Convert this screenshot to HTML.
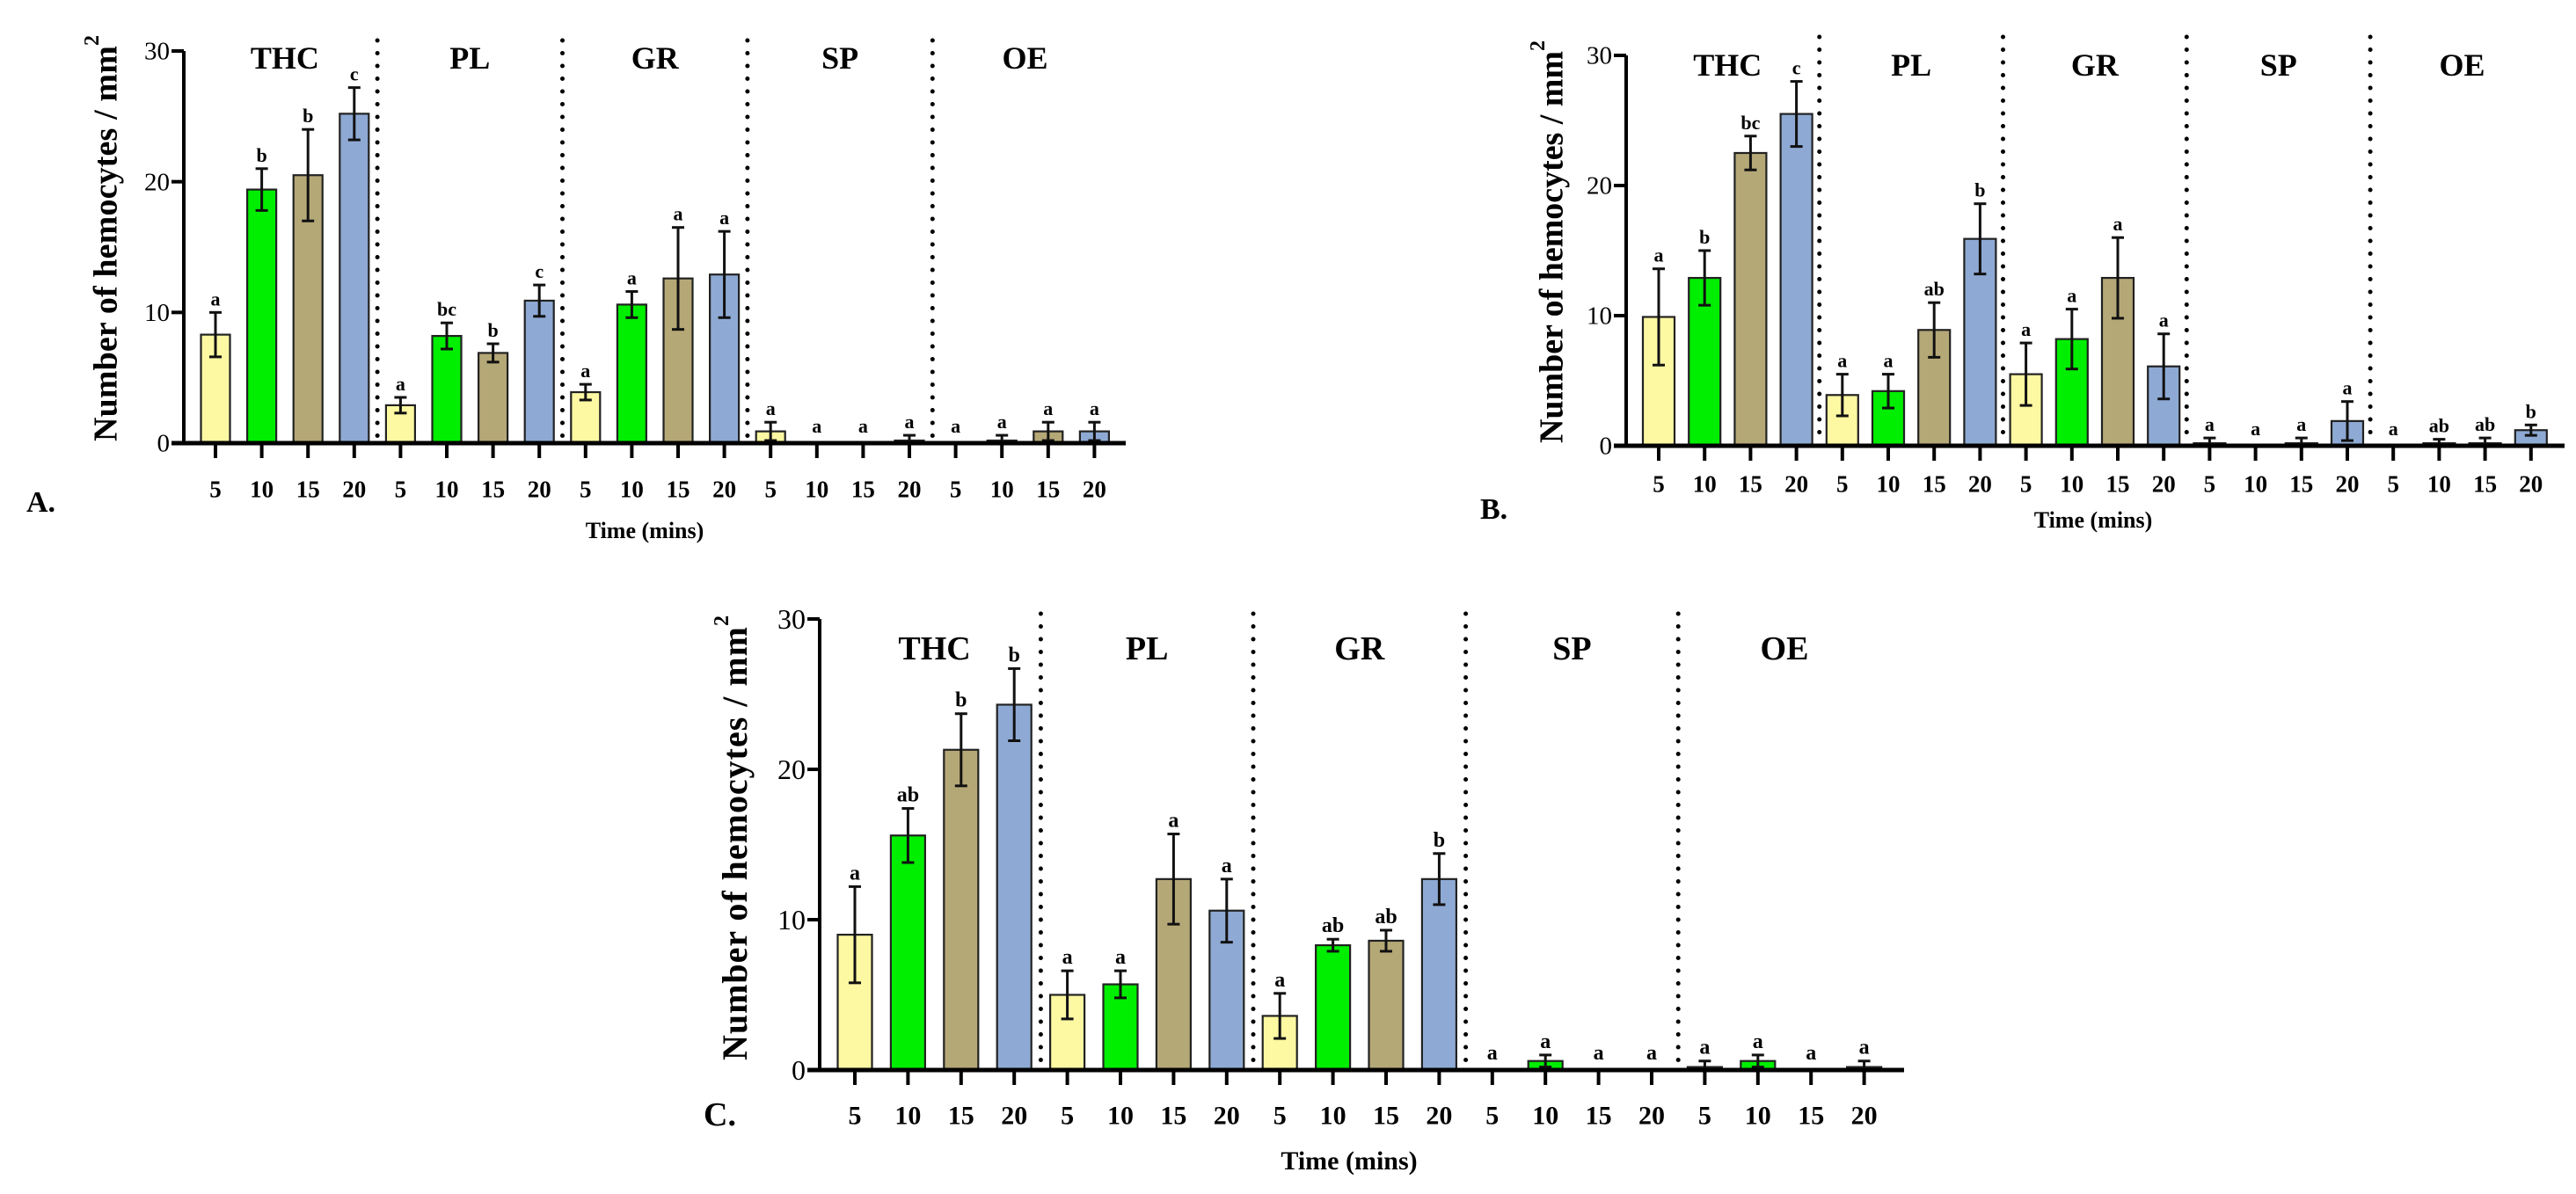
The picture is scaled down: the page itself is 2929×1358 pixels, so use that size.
<!DOCTYPE html>
<html><head><meta charset="utf-8">
<style>
html,body{margin:0;padding:0;background:#fff;}
svg{display:block;font-family:"Liberation Serif",serif;}
</style></head>
<body>
<svg id="fig" width="2929" height="1358" viewBox="0 0 2929 1358" xmlns="http://www.w3.org/2000/svg"></svg>
<script>
// ---- data ----
const groups = ["THC","PL","GR","SP","OE"];
const times = ["5","10","15","20"];
const yTicks = [0,10,20,30];
const aValues = [8.3,19.4,20.5,25.2, 2.9,8.2,6.9,10.9, 3.9,10.6,12.6,12.9, 0.9,0,0,0.2, 0,0.2,0.9,0.9];
const aErrors = [1.7,1.6,3.5,2.0, 0.6,1.0,0.7,1.2, 0.6,1.0,3.9,3.3, 0.7,0,0,0.4, 0,0.4,0.7,0.7];
const aLetters = ["a","b","b","c","a","bc","b","c","a","a","a","a","a","a","a","a","a","a","a","a"];
const bValues = [9.9,12.9,22.5,25.5, 3.9,4.2,8.9,15.9, 5.5,8.2,12.9,6.1, 0.2,0,0.2,1.9, 0,0.2,0.2,1.2];
const bErrors = [3.7,2.1,1.3,2.5, 1.6,1.3,2.1,2.7, 2.4,2.3,3.1,2.5, 0.4,0,0.4,1.5, 0,0.3,0.4,0.4];
const bLetters = ["a","b","bc","c","a","a","ab","b","a","a","a","a","a","a","a","a","a","ab","ab","b"];
const cValues = [9.0,15.6,21.3,24.3, 5.0,5.7,12.7,10.6, 3.6,8.3,8.6,12.7, 0,0.6,0,0, 0.2,0.6,0,0.2];
const cErrors = [3.2,1.8,2.4,2.4, 1.6,0.9,3.0,2.1, 1.5,0.4,0.7,1.7, 0,0.4,0,0, 0.4,0.4,0,0.4];
const cLetters = ["a","ab","b","b","a","a","a","a","a","ab","ab","b","a","a","a","a","a","a","a","a"];
const colors = ["#fdf8a2","#00ee00","#b5a877","#8eaad4"];

// ---- layout ----
const panels = [
 {id:"a",vals:aValues,errs:aErrors,lets:aLetters,ax:209,y0:504,y30:58,x0:245,dx:52.6,bw:33,xEnd:1280,sepTop:46,gy:78,tickY:556,fs:27,gfs:36,lfs:22,
  label:"A.",lx:30,ly:582,tx:733,ty:612,titleX:124,titleTop:40,titleBot:502},
 {id:"b",vals:bValues,errs:bErrors,lets:bLetters,ax:1849,y0:507,y30:63,x0:1886,dx:52.2,bw:36,xEnd:2916,sepTop:42,gy:86,tickY:550,fs:27,gfs:36,lfs:22,
  label:"B.",lx:1683,ly:590,tx:2380,ty:600,titleX:1768,titleTop:46,titleBot:504},
 {id:"c",vals:cValues,errs:cErrors,lets:cLetters,ax:932,y0:1217,y30:704,x0:972,dx:60.4,bw:39,xEnd:2165,sepTop:698,gy:750,tickY:1268,fs:30,gfs:38,lfs:24,
  label:"C.",lx:800,ly:1280,tx:1534,ty:1330,titleX:840,titleTop:700,titleBot:1206}
];
const NS="http://www.w3.org/2000/svg";
const svg=document.getElementById('fig');
function mk(tag,attrs,parent){const e=document.createElementNS(NS,tag);for(const k in attrs)e.setAttribute(k,attrs[k]);(parent||svg).appendChild(e);return e;}

panels.forEach(p=>{
  const g=mk('g',{});
  
  
  const yS=v=>p.y0-(v/30)*(p.y0-p.y30);
  const xS=i=>p.x0+i*p.dx;
  // separators
  for(let k=1;k<groups.length;k++){
    const sx=(xS(4*k-1)+xS(4*k))/2;
    const sep=mk('line',{x1:sx,x2:sx,y1:p.sepTop,y2:p.y0-6,stroke:'#000','stroke-width':5,'stroke-linecap':'round','stroke-dasharray':'0 14.5'},g);
    
    
  }
  // group labels
  groups.forEach((gn,k)=>{
    const t=mk('text',{x:(xS(4*k)+xS(4*k+3))/2,y:p.gy,'font-size':p.gfs,'font-weight':'bold','text-anchor':'middle'},g);
    t.textContent=gn;
    
    
  });
  // bars
  p.vals.forEach((v,i)=>{
    const x=xS(i),top=yS(v),col=colors[i%4];
    if(v>0){
      const r=mk('rect',{x:x-p.bw/2,y:top,width:p.bw,height:p.y0-top,fill:col,stroke:'#222','stroke-width':2.2},g);
      
      
    }
    const e=p.errs[i];
    if(e>0){
      const et=yS(v+e),eb=yS(Math.max(0,v-e));
      const eg=mk('g',{stroke:'#111','stroke-width':3},g);
      
      
      mk('line',{x1:x,x2:x,y1:et,y2:eb},eg);
      mk('line',{x1:x-7,x2:x+7,y1:et,y2:et},eg);
      if(v-e>0) mk('line',{x1:x-7,x2:x+7,y1:eb,y2:eb},eg);
    }
    const lt=mk('text',{x:x,y:(e>0?yS(v+e):yS(v))-8-(v===0?4:0),'font-size':p.lfs,'font-weight':'bold','text-anchor':'middle'},g);
    lt.textContent=p.lets[i];
    
    
    // x tick + label
    mk('line',{x1:x,x2:x,y1:p.y0,y2:p.y0+17,stroke:'#000','stroke-width':4},g);
    const tl=mk('text',{x:x,y:p.tickY+p.fs*0.35,'font-size':p.fs,'font-weight':'bold','text-anchor':'middle'},g);
    tl.textContent=times[i%4];
    
    
  });
  // axes
  const ya=mk('line',{x1:p.ax,x2:p.ax,y1:p.y30,y2:p.y0+2,stroke:'#000','stroke-width':4},g);
  
  
  const xa=mk('line',{x1:p.ax-14,x2:p.xEnd,y1:p.y0,y2:p.y0,stroke:'#000','stroke-width':5},g);
  
  
  yTicks.forEach(v=>{
    const y=yS(v);
    mk('line',{x1:p.ax-14,x2:p.ax,y1:y,y2:y,stroke:'#000','stroke-width':4},g);
    const t=mk('text',{x:p.ax-16,y:y+p.fs*0.36,'font-size':p.fs+2,'text-anchor':'end'},g);
    t.textContent=v;
    
    
  });
  // y title
  const cy=(p.titleTop+p.titleBot)/2, len=p.titleBot-p.titleTop;
  const yt=mk('text',{x:p.titleX,y:cy,transform:`rotate(-90 ${p.titleX} ${cy})`,'text-anchor':'middle','font-size':p.id==='c'?40:38,'font-weight':'bold','dominant-baseline':'middle',textLength:len,lengthAdjust:'spacing'},g);
  yt.textContent='Number of hemocytes / mm';
  const sup=mk('tspan',{'font-size':24,dy:-18},yt);
  sup.textContent='2';
  
  
  // x title
  const xt=mk('text',{x:p.tx,y:p.ty,'font-size':p.id==='c'?30:26,'font-weight':'bold','text-anchor':'middle'},g);
  xt.textContent='Time (mins)';
  
  
  const pl=mk('text',{x:p.lx,y:p.ly,'font-size':p.id==='c'?38:34,'font-weight':'bold'},g);
  pl.textContent=p.label;
  
  
});
</script>
</body></html>
